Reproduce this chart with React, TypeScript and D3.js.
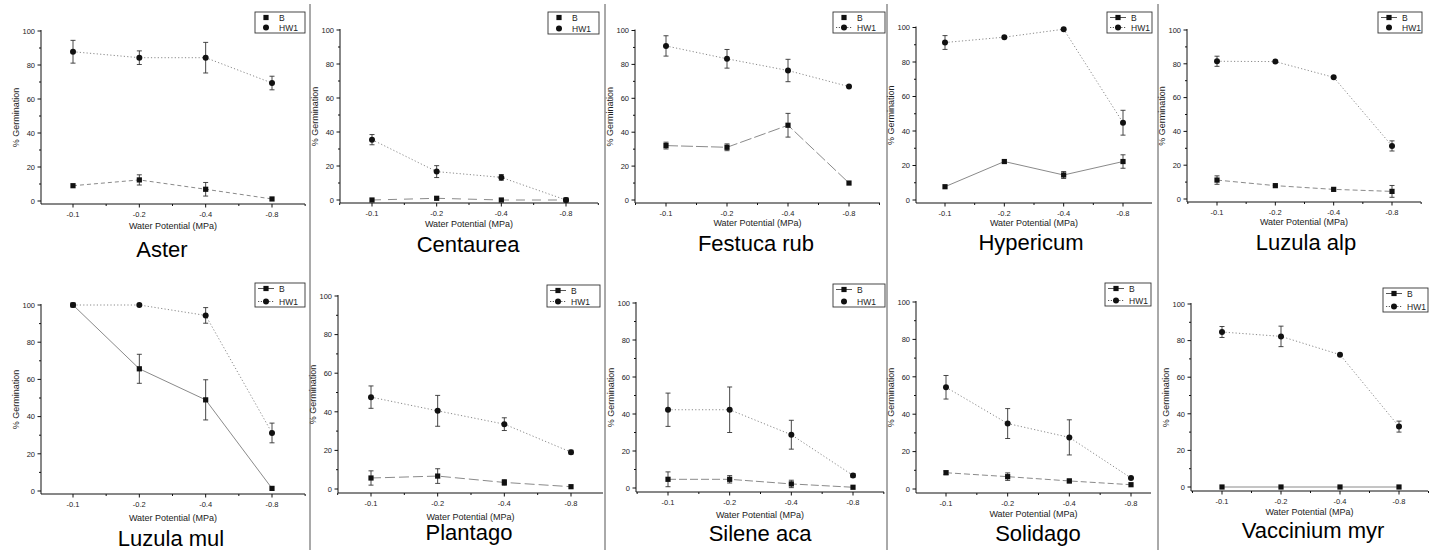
import React from 'react';
import * as d3 from 'd3';

// Germination (%) of B and HW1 seeds across four water potentials, one panel per species.

const CATEGORIES = ['-0.1', '-0.2', '-0.4', '-0.8'];
const SPECIES = [
  'Aster', 'Centaurea', 'Festuca rub', 'Hypericum', 'Luzula alp',
  'Luzula mul', 'Plantago', 'Silene aca', 'Solidago', 'Vaccinium myr',
];
const SERIES = ['B', 'HW1'];
const Y_TICKS = [0, 20, 40, 60, 80, 100];
const Y_MINOR = [10, 30, 50, 70, 90];

const B_MEAN = [
  [9, 12.4, 6.9, 1.2],
  [0, 1, 0, 0],
  [32.1, 31.1, 44.1, 10],
  [7.7, 22.3, 14.5, 22.3],
  [11.2, 7.9, 5.7, 4.5],
  [100, 65.7, 49, 1.4],
  [5.7, 6.7, 3.4, 1.2],
  [4.7, 4.7, 2.2, 0.4],
  [8.7, 6.6, 4.3, 2.3],
  [0, 0, 0, 0],
];
const B_ERR = [
  [0, 3, 4, 0],
  [0, 0, 0, 0],
  [2, 2, 7, 0],
  [0, 0, 2, 3.9],
  [2.5, 0, 0, 3.5],
  [0, 7.8, 10.8, 0],
  [3.7, 3.8, 1.5, 0],
  [4, 2, 2, 0],
  [1, 2, 1, 0],
  [0, 0, 0, 0],
];
const HW1_MEAN = [
  [87.8, 84.3, 84.3, 69.4],
  [35.5, 16.7, 13.3, 0],
  [90.9, 83.3, 76.4, 66.9],
  [91.3, 94.4, 99, 44.8],
  [81.5, 81.3, 72, 31.4],
  [100, 100, 94.4, 31.2],
  [47.6, 40.5, 33.6, 19.1],
  [42.3, 42.3, 28.8, 6.8],
  [54.4, 35, 27.6, 5.9],
  [84.7, 82.3, 72.3, 33],
];
const HW1_ERR = [
  [6.7, 4, 9, 4],
  [3, 3.5, 1.7, 0],
  [6, 5.5, 6.6, 0],
  [4, 0, 0, 7.2],
  [3, 0, 0, 3],
  [0, 0, 4.2, 5.3],
  [5.8, 8, 3.3, 1],
  [9, 12.3, 7.8, 1],
  [6.3, 8, 9.4, 0],
  [3, 5.6, 0, 3],
];

// Page geometry of each panel (scanned figure, axes not perfectly aligned).
// lb = baseline of the x-axis title, ty = baseline of the species title.
const LAYOUT = [
  { ax: 41, c1: 73, c4: 272, xEnd: 305, y100: 31, y0: 201, axY: 204, lb: 229, tx: 162, ty: 257, lg: [255, 12, 50, 21] },
  { ax: 340, c1: 372, c4: 566, xEnd: 598, y100: 30, y0: 200, axY: 203, lb: 227, tx: 468, ty: 252, lg: [548, 12, 51, 22] },
  { ax: 635, c1: 666, c4: 849, xEnd: 880, y100: 30.5, y0: 200, axY: 203, lb: 226, tx: 756, ty: 251, lg: [833, 12, 52, 21] },
  { ax: 916, c1: 945, c4: 1123, xEnd: 1152, y100: 27.5, y0: 200, axY: 203, lb: 226, tx: 1031, ty: 250, lg: [1107, 12, 45, 21] },
  { ax: 1187, c1: 1217, c4: 1392, xEnd: 1421, y100: 30, y0: 199, axY: 202, lb: 225, tx: 1306, ty: 250, lg: [1378, 12, 44, 21] },
  { ax: 41, c1: 73, c4: 272, xEnd: 305, y100: 305, y0: 491, axY: 494, lb: 521, tx: 171, ty: 546, lg: [255, 283, 50, 24] },
  { ax: 338, c1: 371, c4: 571, xEnd: 603, y100: 296, y0: 489, axY: 493, lb: 520, tx: 469, ty: 540, lg: [547, 285, 53, 22] },
  { ax: 636, c1: 668, c4: 853, xEnd: 884, y100: 303, y0: 488, axY: 492, lb: 518, tx: 760, ty: 541, lg: [833, 284, 52, 23] },
  { ax: 916, c1: 946, c4: 1131, xEnd: 1151, y100: 302, y0: 489, axY: 493, lb: 517, tx: 1038, ty: 541, lg: [1105, 283, 46, 23] },
  { ax: 1191, c1: 1222, c4: 1399, xEnd: 1428, y100: 304, y0: 487, axY: 491, lb: 515, tx: 1313, ty: 538, lg: [1383, 288, 45, 24] },
];

// Line dash of B per panel, and whether each legend row shows its line.
const B_DASH = ['4 3', '9 7', '12 3', null, '5 3', null, '10 4', '8 3', '6 3', null];
const LEGEND_LINES = [
  [false, false], [false, false], [false, true], [true, true], [true, false],
  [true, true], [true, true], [true, false], [true, true], [true, true],
];
const SEPARATORS = [310, 605, 887, 1158];

const FONT = '"Liberation Sans", Arial, sans-serif';
const INK = '#111';
const LINE = '#8a8a8a';

function Square({ x, y }) {
  return <rect x={x - 2.6} y={y - 2.6} width={5.2} height={5.2} fill={INK} />;
}
function Dot({ x, y }) {
  return <circle cx={x} cy={y} r={3} fill={INK} />;
}

function Panel({ i }) {
  const L = LAYOUT[i];
  const x = d3.scaleLinear().domain([1, 4]).range([L.c1, L.c4]);
  const y = d3.scaleLinear().domain([0, 100]).range([L.y0, L.y100]);
  const xTicks = d3.range(0.5, 4.51, 0.5).filter((t) => x(t) >= L.ax - 0.5 && x(t) <= L.xEnd + 0.5);
  const pos = CATEGORIES.map((_, k) => k + 1);

  const line = d3.line<number>().x((_, k) => x(k + 1)).y((v) => y(v));
  const series = [
    { mean: B_MEAN[i], err: B_ERR[i], dash: B_DASH[i], Mark: Square },
    { mean: HW1_MEAN[i], err: HW1_ERR[i], dash: '1.2 2.2', Mark: Dot },
  ];
  const [lx, ly, lw, lh] = L.lg;
  const midX = (L.ax + L.xEnd) / 2;

  return (
    <g fontFamily={FONT}>
      {/* axes */}
      <line x1={L.ax} x2={L.ax} y1={L.y100 - 1} y2={L.axY} stroke={INK} strokeWidth={1} />
      <line x1={L.ax} x2={L.xEnd} y1={L.axY} y2={L.axY} stroke={INK} strokeWidth={1} />
      {Y_TICKS.map((t) => (
        <g key={t}>
          <line x1={L.ax - 3.5} x2={L.ax} y1={y(t)} y2={y(t)} stroke={INK} />
          <text x={L.ax - 6} y={y(t) + 2.8} fontSize={7.5} textAnchor="end" fill="#222">{t}</text>
        </g>
      ))}
      {Y_MINOR.map((t) => (
        <line key={t} x1={L.ax - 2} x2={L.ax} y1={y(t)} y2={y(t)} stroke={INK} />
      ))}
      {xTicks.map((t) => (
        <line key={t} x1={x(t)} x2={x(t)} y1={L.axY} y2={L.axY + (Number.isInteger(t) ? 3.5 : 2)} stroke={INK} />
      ))}
      {CATEGORIES.map((c, k) => (
        <text key={c} x={x(k + 1)} y={L.axY + 13} fontSize={7.5} textAnchor="middle" fill="#222">{c}</text>
      ))}
      <text x={midX} y={L.lb} fontSize={9} textAnchor="middle" fill="#222">Water Potential (MPa)</text>
      <text
        transform={`translate(${L.ax - 22},${(L.y100 + L.axY) / 2}) rotate(-90)`}
        fontSize={9}
        textAnchor="middle"
        fill="#222"
      >
        % Germination
      </text>
      <text x={L.tx} y={L.ty} fontSize={22} textAnchor="middle" fill="#000">{SPECIES[i]}</text>

      {/* lines, error bars, markers */}
      {series.map((s, si) => (
        <path
          key={`l${si}`}
          d={line(s.mean) || ''}
          fill="none"
          stroke={LINE}
          strokeWidth={1}
          strokeDasharray={s.dash || undefined}
        />
      ))}
      {series.map((s, si) =>
        s.mean.map((v, k) =>
          s.err[k] > 0 ? (
            <g key={`e${si}${k}`} stroke="#333" strokeWidth={0.9}>
              <line x1={x(pos[k])} x2={x(pos[k])} y1={y(v - s.err[k])} y2={y(v + s.err[k])} />
              <line x1={x(pos[k]) - 2.5} x2={x(pos[k]) + 2.5} y1={y(v - s.err[k])} y2={y(v - s.err[k])} />
              <line x1={x(pos[k]) - 2.5} x2={x(pos[k]) + 2.5} y1={y(v + s.err[k])} y2={y(v + s.err[k])} />
            </g>
          ) : null,
        ),
      )}
      {series.map((s, si) =>
        s.mean.map((v, k) => <s.Mark key={`m${si}${k}`} x={x(pos[k])} y={y(v)} />),
      )}

      {/* legend */}
      <rect x={lx} y={ly} width={lw} height={lh} fill="#fff" stroke="#333" strokeWidth={0.9} />
      {SERIES.map((name, si) => {
        const ry = ly + 5.5 + si * (lh - 11);
        const sx = lx + 11;
        const Mark = series[si].Mark;
        return (
          <g key={name}>
            {LEGEND_LINES[i][si] && (
              <line
                x1={lx + 3}
                x2={lx + 19}
                y1={ry}
                y2={ry}
                stroke="#555"
                strokeDasharray={si === 1 ? '1.2 1.6' : undefined}
              />
            )}
            <Mark x={sx} y={ry} />
            <text x={lx + 24} y={ry + 3} fontSize={8.5} fill="#222">{name}</text>
          </g>
        );
      })}
    </g>
  );
}

export default function App() {
  return (
    <svg
      width={1440}
      height={550}
      style={{ position: 'absolute', left: 0, top: 0, background: '#fff' }}
    >
      <rect width={1440} height={550} fill="#fff" />
      {SEPARATORS.map((sx) => (
        <line key={sx} x1={sx} x2={sx} y1={4} y2={550} stroke="#555" strokeWidth={1} />
      ))}
      {SPECIES.map((_, i) => (
        <Panel key={i} i={i} />
      ))}
    </svg>
  );
}
